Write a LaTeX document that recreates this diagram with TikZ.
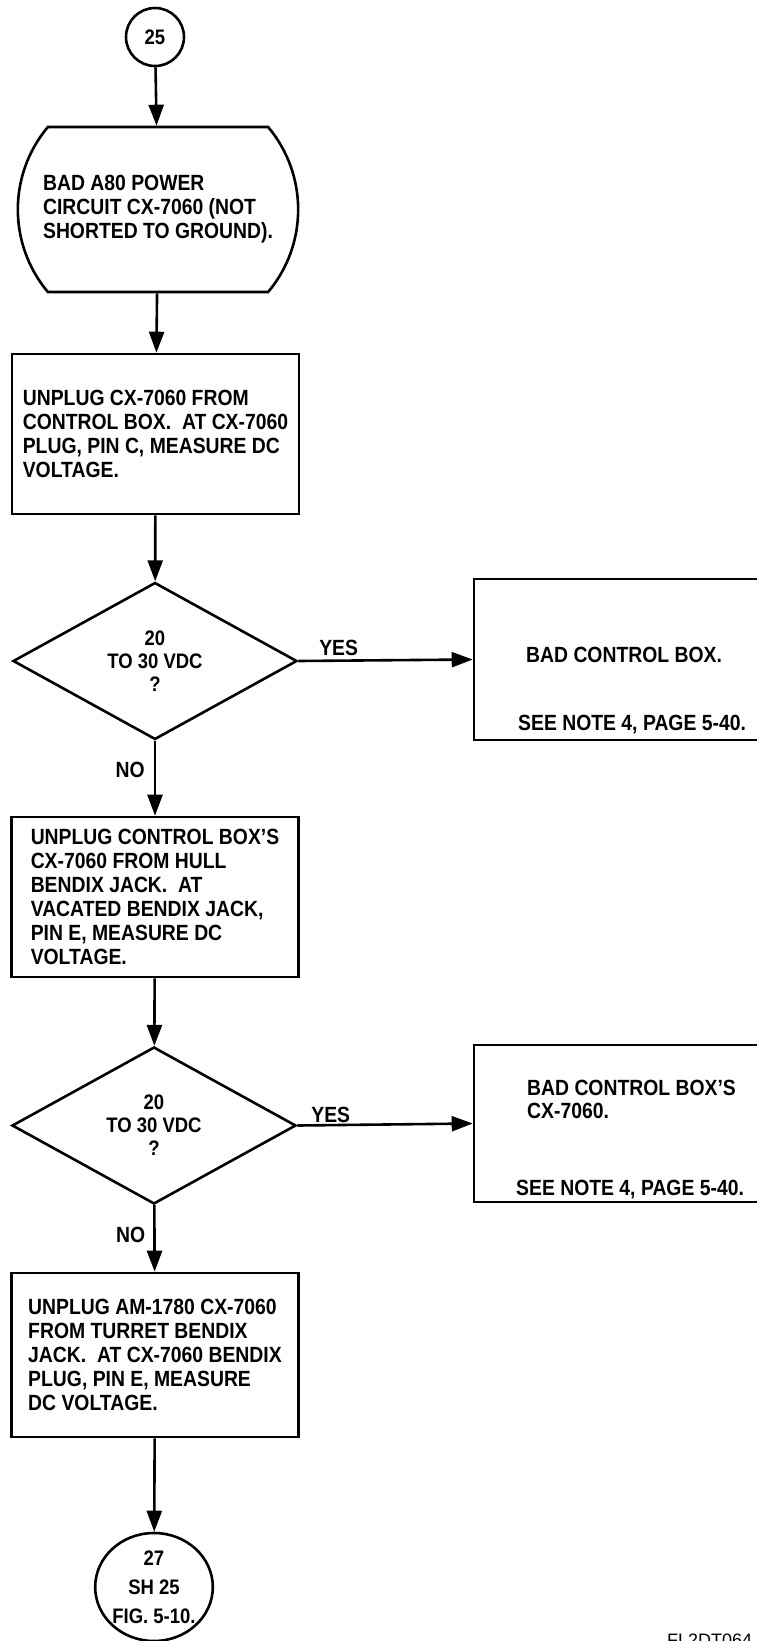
\documentclass[tikz,border=0pt]{standalone}
\usepackage{fontspec}
\setmainfont{Liberation Sans}[FakeStretch=0.88]
\newfontfamily\figfont{Liberation Sans}
\usetikzlibrary{shapes.misc,shapes.geometric,arrows.meta}
\tikzset{
    chart/.style={line width=2.6pt},
    stepbox/.style={chart, draw, rectangle, align=left, inner sep=0pt, minimum width=287pt, minimum height=160pt, font=\bfseries\fontsize{22}{24}\selectfont},
    endbox/.style={chart, draw, rectangle, inner sep=0pt, minimum width=292pt},
    endtext/.style={anchor=base west, inner sep=0pt, align=left, font=\bfseries\fontsize{22}{22.5}\selectfont},
    check/.style={chart, draw, diamond, aspect=1.8, inner sep=0pt, minimum width=284pt, minimum height=157pt, align=center, font=\bfseries\fontsize{21}{23}\selectfont},
    answer/.style={inner sep=0pt, font=\bfseries\fontsize{22}{22}\selectfont},
    arr/.style={chart, -{Triangle[length=21pt,width=15pt]}}
}
\begin{document}
\begin{tikzpicture}[x=1pt,y=-1pt]
    \useasboundingbox (0,0) rectangle (757,1641);
    \node[chart, draw, circle, minimum size=58pt, inner sep=0pt, font=\bfseries\fontsize{21}{21}\selectfont] (c25) at (155,37) {25};
    \node[chart, draw, rounded rectangle, rounded rectangle arc length=80, minimum width=287pt, minimum height=165pt, align=left, font=\bfseries\fontsize{22}{24}\selectfont] (bada80) at (158,209.5) {BAD A80 POWER\\CIRCUIT CX-7060 (NOT\\SHORTED TO GROUND).};
    \node[stepbox] (unplugbox) at (155.5,434) {UNPLUG CX-7060 FROM\\CONTROL BOX.\ \ AT CX-7060\\PLUG, PIN C, MEASURE DC\\VOLTAGE.};
    \node[check] (vdcone) at (155,661) {20\\TO 30 VDC\\?};
    \node[endbox, minimum height=161pt] (badbox) at (620,659.5) {};
    \node[endtext] (badboxtxt) at (526,662) {BAD CONTROL BOX.};
    \node[endtext] (noteone) at (518,730) {SEE NOTE 4, PAGE 5-40.};
    \node[stepbox] (unplughull) at (155,897) {UNPLUG CONTROL BOX'S\\CX-7060 FROM HULL\\BENDIX JACK.\ \ AT\\VACATED BENDIX JACK,\\PIN E, MEASURE DC\\VOLTAGE.};
    \node[check] (vdctwo) at (154,1125.5) {20\\TO 30 VDC\\?};
    \node[endbox, minimum height=157pt] (badcx) at (620,1123.5) {};
    \node[endtext] (badcxtxt) at (527,1118) {BAD CONTROL BOX'S\\CX-7060.};
    \node[endtext] (notetwo) at (516,1195) {SEE NOTE 4, PAGE 5-40.};
    \node[stepbox, minimum height=164pt] (unplugturret) at (155,1355) {UNPLUG AM-1780 CX-7060\\FROM TURRET BENDIX\\JACK.\ \ AT CX-7060 BENDIX\\PLUG, PIN E, MEASURE\\DC VOLTAGE.};
    \node[chart, draw, ellipse, minimum width=114pt, minimum height=108pt, inner sep=0pt, align=center, font=\bfseries\fontsize{21}{29}\selectfont] (c27) at (154,1587) {27\\SH 25\\FIG. 5-10.};
    \node[anchor=base west, inner sep=0pt, font=\figfont\fontsize{18}{18}\selectfont] (figid) at (667,1646) {FL2DT064};

    \draw[arr] (c25) -- (bada80);
    \draw[arr] (bada80) -- (unplugbox);
    \draw[arr] (unplugbox) -- (vdcone);
    \draw[arr] (vdcone.east) -- node[answer, pos=0.113, anchor=base west, yshift=5pt] {YES} (badbox.west);
    \draw[arr] (vdcone) -- node[answer, pos=0.49, anchor=base east, xshift=-9pt] {NO} (unplughull);
    \draw[arr] (unplughull) -- (vdctwo);
    \draw[arr] (vdctwo.east) -- node[answer, pos=0.073, anchor=base west, yshift=2.5pt] {YES} (badcx.west);
    \draw[arr] (vdctwo) -- node[answer, pos=0.557, anchor=base east, xshift=-8pt] {NO} (unplugturret);
    \draw[arr] (unplugturret) -- (c27);
\end{tikzpicture}
\end{document}
